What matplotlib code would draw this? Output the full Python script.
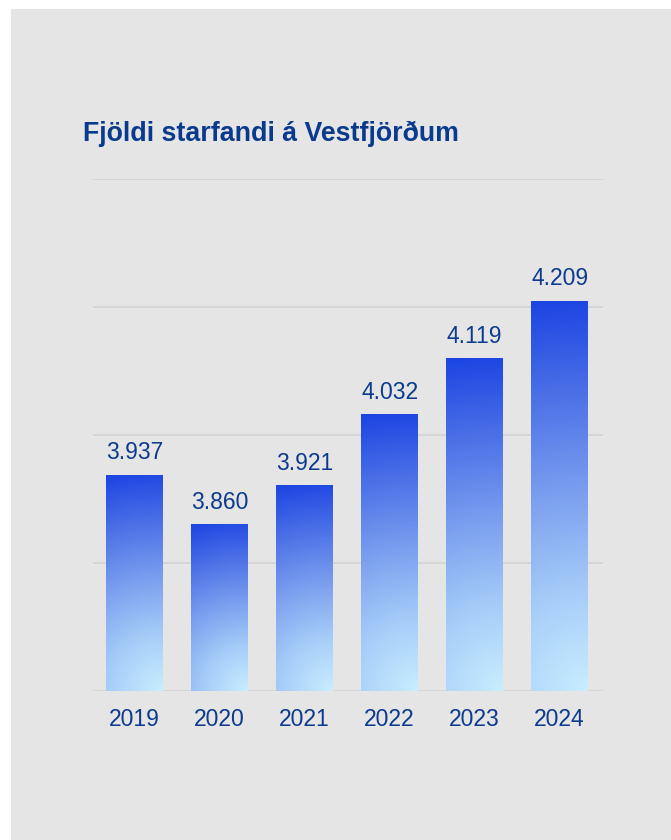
import numpy as np
import matplotlib
matplotlib.use("Agg")
import matplotlib.pyplot as plt
from matplotlib.patches import Rectangle
from matplotlib.colors import LinearSegmentedColormap

years = ["2019", "2020", "2021", "2022", "2023", "2024"]
values = [3937, 3860, 3921, 4032, 4119, 4209]
value_labels = ["3.937", "3.860", "3.921", "4.032", "4.119", "4.209"]
title = "Fjöldi starfandi á Vestfjörðum"

W, H = 671, 840
fig = plt.figure(figsize=(W / 100, H / 100), dpi=100, facecolor="white")
fig.patches.append(Rectangle((11 / W, 0), 1 - 11 / W, 1 - 9 / H,
                             transform=fig.transFigure, facecolor="#e5e5e5",
                             edgecolor="none", zorder=-10))

ax = fig.add_axes([93 / W, (H - 691) / H, 510 / W, 512 / H])
ax.set_zorder(1)
ax.set_facecolor("none")
ax.set_xlim(-0.49, 5.51)
ax.set_ylim(3600, 4400)
ax.set_yticks([3600, 3800, 4000, 4200, 4400])
ax.yaxis.grid(True, color="#d6d6d6", linewidth=1.4)
ax.set_axisbelow(True)
for s in ax.spines.values():
    s.set_visible(False)
ax.tick_params(axis="y", left=False, labelleft=False)

text_color = "#0b3a8e"
ax.set_xticks(range(len(years)))
ax.set_xticklabels(years, fontsize=16.5, color=text_color, family="Liberation Sans")
ax.tick_params(axis="x", length=0, pad=12)

cmap = LinearSegmentedColormap.from_list(
    "g", [(0.0, "#c8eeff"), (0.25, "#a6cdf8"), (0.5, "#7ca0ef"),
          (0.75, "#4d72e7"), (1.0, "#1c44e2")])

width = 0.67
px_per_x = 510 / 6.0
px_per_y = 512 / 800.0
bars = ax.bar(range(len(years)), values, width=width, bottom=0,
              color="none", edgecolor="none")
for i, (b, v) in enumerate(zip(bars, values)):
    x0 = b.get_x()
    wpx = width * px_per_x
    hpx = (v - 3600) * px_per_y
    ny, nx = 300, 60
    yn = np.linspace(1, 0, ny)[:, None]   # 1 = top row
    xn = np.linspace(0, 1, nx)[None, :]
    d = np.sqrt(((1 - xn) * wpx) ** 2 + (yn * hpx) ** 2) / np.sqrt(wpx ** 2 + hpx ** 2)
    ax.imshow(d, cmap=cmap, vmin=0, vmax=1, aspect="auto",
              extent=(x0, x0 + width, 3600, v), zorder=2,
              interpolation="bilinear")
    ax.annotate(value_labels[i], (i, v), xytext=(0, 11.5), textcoords="offset points",
                ha="center", va="baseline", fontsize=16.5, color=text_color,
                family="Liberation Sans")

ax.set_xlim(-0.49, 5.51)
ax.set_ylim(3600, 4400)

fig.text(83 / W, 1 - 141 / H, title, fontsize=19.3, fontweight="bold",
         color="#0a3a8e", family="Liberation Sans", ha="left", va="baseline")

fig.savefig("out.png", dpi=100, facecolor=fig.get_facecolor())
